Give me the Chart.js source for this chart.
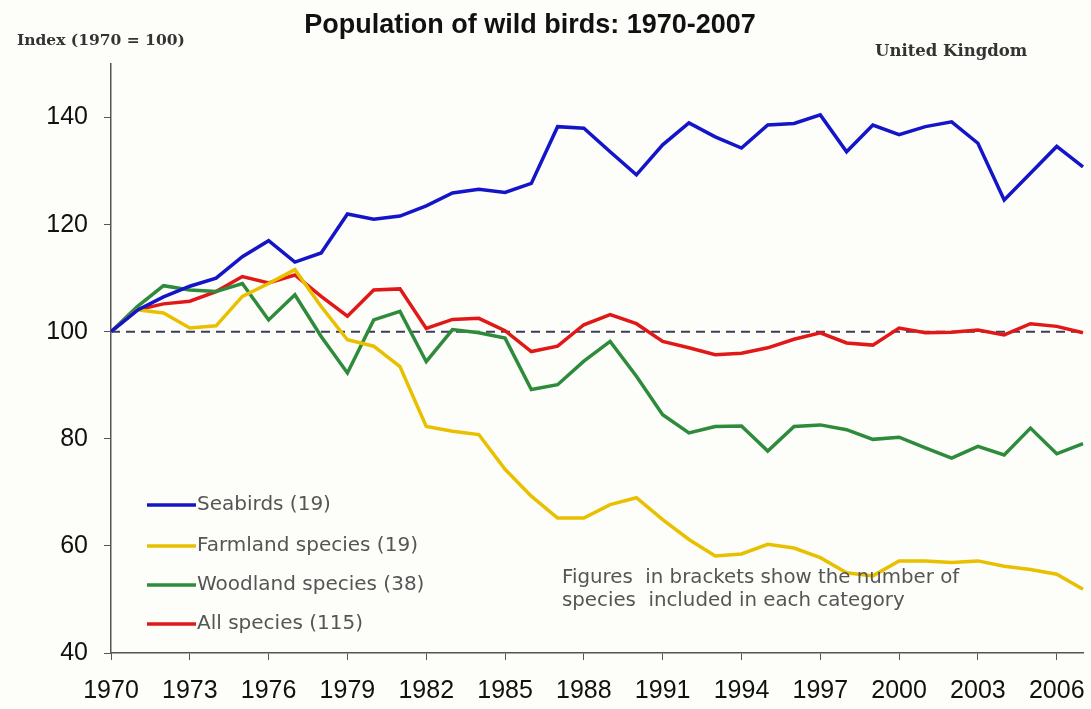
<!DOCTYPE html>
<html>
<head>
<meta charset="utf-8">
<script src="https://cdn.jsdelivr.net/npm/chart.js@4/dist/chart.umd.min.js"></script>
<style>
  html, body { margin: 0; padding: 0; background: #fdfdf9; }
  #wrap { width: 1091px; height: 709px; position: relative; }
</style>
</head>
<body>
<div id="wrap"><canvas id="birds"></canvas></div>
<script>
// years on the category axis
const years = [];
for (let y = 1970; y <= 2007; y++) years.push(String(y));

// index values (1970 = 100)
const seabirds = [100, 104, 106.5, 108.5, 110, 114, 117, 113, 114.7, 122, 121, 121.6, 123.5,
  125.9, 126.6, 126, 127.7, 138.3, 138, 133.6, 129.3, 134.9, 139, 136.4, 134.3,
  138.6, 138.9, 140.5, 133.6, 138.6, 136.8, 138.3, 139.2, 135.2, 124.6, 129.6, 134.6, 130.8];
const farmland = [100, 104.1, 103.5, 100.7, 101.1, 106.6, 109, 111.6, 104.7, 98.5, 97.3, 93.5, 82.3,
  81.4, 80.8, 74.3, 69.3, 65.2, 65.2, 67.7, 69, 64.9, 61.2, 58.1, 58.5,
  60.3, 59.6, 57.8, 55, 54.4, 57.2, 57.2, 56.9, 57.2, 56.2, 55.6, 54.7, 51.9];
const woodland = [100, 104.7, 108.6, 107.8, 107.5, 109, 102.2, 106.9, 99.1, 92.3, 102.2, 103.8, 94.4,
  100.4, 99.8, 98.8, 89.2, 90.1, 94.5, 98.2, 91.7, 84.5, 81.1, 82.3, 82.4,
  77.7, 82.3, 82.6, 81.7, 79.9, 80.3, 78.3, 76.4, 78.6, 77, 82, 77.2, 79.1];
const allSpecies = [100, 104.1, 105.2, 105.7, 107.5, 110.3, 109.1, 110.6, 106.6, 102.9, 107.8, 108, 100.6,
  102.3, 102.5, 100.2, 96.3, 97.3, 101.3, 103.2, 101.5, 98.2, 97, 95.7, 96,
  97, 98.6, 99.8, 97.9, 97.5, 100.7, 99.8, 99.9, 100.3, 99.4, 101.5, 101, 99.8];

const seriesNames = ['Seabirds (19)', 'Farmland species (19)', 'Woodland species (38)', 'All species (115)'];
const yTicks = [40, 60, 80, 100, 120, 140];
const baseline = 100;
const noteLines = ['Figures  in brackets show the number of', 'species  included in each category'];

const colors = ['#1414c8', '#e8c000', '#2e8b3c', '#e01818'];

// dashed 1970 = 100 line, behind the series
const baselinePlugin = {
    id: 'baseline',
    beforeDatasetsDraw(chart) {
        const { ctx, chartArea, scales } = chart;
        const y = scales.y.getPixelForValue(baseline);
        ctx.save();
        ctx.strokeStyle = '#3c3c5c';
        ctx.lineWidth = 2;
        ctx.setLineDash([9, 6]);
        ctx.beginPath();
        ctx.moveTo(chartArea.left, y);
        ctx.lineTo(chartArea.right, y);
        ctx.stroke();
        ctx.restore();
    }
};

// titles, legend box and note
const textPlugin = {
    id: 'texts',
    afterDraw(chart) {
        const ctx = chart.ctx;
        ctx.save();
        ctx.fillStyle = '#111';
        ctx.textBaseline = 'middle';
        ctx.textAlign = 'center';
        ctx.font = 'bold 27px "Liberation Sans", Arial, sans-serif';
        ctx.fillText('Population of wild birds: 1970-2007', 530, 26);

        ctx.textAlign = 'left';
        ctx.fillStyle = '#333';
        ctx.font = 'bold 15.5px "DejaVu Serif", serif';
        ctx.fillText('Index (1970 = 100)', 17, 41);
        ctx.font = 'bold 16.5px "DejaVu Serif", serif';
        ctx.fillText('United Kingdom', 875, 52);

        ctx.font = '20px "DejaVu Sans", sans-serif';
        const legendY = [505, 546, 585, 624];
        chart.data.datasets.forEach((ds, i) => {
            ctx.strokeStyle = ds.borderColor;
            ctx.lineWidth = 3.5;
            ctx.beginPath();
            ctx.moveTo(147, legendY[i]);
            ctx.lineTo(196, legendY[i]);
            ctx.stroke();
            ctx.fillStyle = '#555';
            ctx.fillText(ds.label, 197, legendY[i]);
        });

        ctx.fillStyle = '#555';
        ctx.font = '19.8px "DejaVu Sans", sans-serif';
        ctx.fillText(noteLines[0], 562, 578);
        ctx.fillText(noteLines[1], 562, 601);
        ctx.restore();
    }
};

const tickFont = { family: '"Liberation Sans", Arial, sans-serif', size: 25 };

new Chart(document.getElementById('birds'), {
    type: 'line',
    data: {
        labels: years,
        datasets: [seabirds, farmland, woodland, allSpecies].map((d, i) => ({
            label: seriesNames[i],
            data: d,
            borderColor: colors[i],
            backgroundColor: colors[i],
            borderWidth: 3.5,
            pointRadius: 0,
            tension: 0,
            fill: false
        }))
    },
    options: {
        responsive: true,
        maintainAspectRatio: false,
        animation: false,
        layout: { padding: { top: 64, right: 0, left: 0, bottom: 0 } },
        plugins: {
            legend: { display: false },
            tooltip: { enabled: false }
        },
        scales: {
            x: {
                type: 'category',
                offset: false,
                border: { color: '#555', width: 1.5 },
                grid: {
                    drawOnChartArea: false,
                    tickLength: 7,
                    color: ctx => (ctx.index % 3 === 0 ? '#555' : 'rgba(0,0,0,0)')
                },
                ticks: {
                    autoSkip: false,
                    maxRotation: 0,
                    color: '#111',
                    font: tickFont,
                    padding: 16,
                    callback: (v, i) => (i % 3 === 0 ? years[i] : '')
                },
                afterFit: s => { s.height = 56; s.paddingRight = 8; }
            },
            y: {
                min: 40,
                max: 150,
                border: { color: '#555', width: 1.5 },
                grid: { drawOnChartArea: false, tickLength: 7, color: '#555' },
                ticks: { color: '#111', font: tickFont, padding: 16 },
                afterBuildTicks: s => { s.ticks = yTicks.map(v => ({ value: v })); },
                afterFit: s => { s.width = 111; }
            }
        }
    },
    plugins: [baselinePlugin, textPlugin]
});
</script>
</body>
</html>
